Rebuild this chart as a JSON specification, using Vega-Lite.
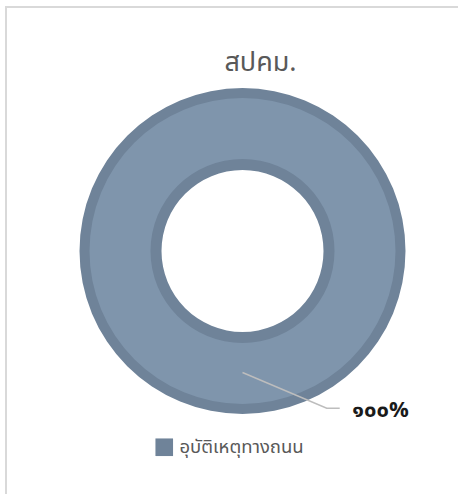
{
  "$schema": "https://vega.github.io/schema/vega-lite/v6.json",
  "width": 473,
  "height": 488,
  "autosize": {"type": "none"},
  "padding": {"left": 6, "top": 7, "right": 0, "bottom": 0},
  "background": "white",
  "config": {
    "view": {"stroke": "#d9d9d9", "strokeWidth": 2},
    "font": "Noto Sans Thai, Tahoma, sans-serif"
  },
  "title": {
    "text": "สปคม.",
    "orient": "top",
    "anchor": "middle",
    "offset": -70,
    "dx": 18,
    "fontSize": 27,
    "fontWeight": "normal",
    "color": "#595959"
  },
  "datasets": {
    "pie": [
      {"cause": "อุบัติเหตุทางถนน", "value": 100, "label": "๑๐๐%"}
    ],
    "leader": [
      {"px": 0.0, "py": -0.75, "ord": 1},
      {"px": 0.52, "py": -0.97, "ord": 2},
      {"px": 0.60, "py": -0.97, "ord": 3}
    ]
  },
  "layer": [
    {
      "data": {"name": "pie"},
      "mark": {"type": "arc", "radius": 163, "radius2": 81},
      "encoding": {
        "theta": {"field": "value", "type": "quantitative", "stack": true},
        "color": {
          "field": "cause",
          "type": "nominal",
          "scale": {"range": ["#6f8399"]},
          "legend": {
            "orient": "none",
            "legendX": 149,
            "legendY": 431,
            "title": null,
            "symbolType": "square",
            "symbolSize": 310,
            "symbolStrokeWidth": 0,
            "labelFontSize": 18.5,
            "labelColor": "#595959",
            "labelOffset": 6,
            "padding": 0
          }
        }
      }
    },
    {
      "data": {"name": "pie"},
      "mark": {"type": "arc", "radius": 153, "radius2": 92, "fill": "#7f95ac"},
      "encoding": {
        "theta": {"field": "value", "type": "quantitative", "stack": true}
      }
    },
    {
      "data": {"name": "leader"},
      "mark": {"type": "line", "color": "#bdbdbd", "strokeWidth": 1.5},
      "encoding": {
        "x": {"field": "px", "type": "quantitative", "scale": {"domain": [-1.46, 1.46]}, "axis": null},
        "y": {"field": "py", "type": "quantitative", "scale": {"domain": [-1.506, 1.506]}, "axis": null},
        "order": {"field": "ord"}
      }
    },
    {
      "data": {"name": "pie"},
      "mark": {"type": "text", "radius": 159, "dx": 138, "fontSize": 22, "fontWeight": "bold", "color": "#1a1a1a"},
      "encoding": {
        "theta": {"field": "value", "type": "quantitative", "stack": true},
        "text": {"field": "label"}
      }
    }
  ]
}
